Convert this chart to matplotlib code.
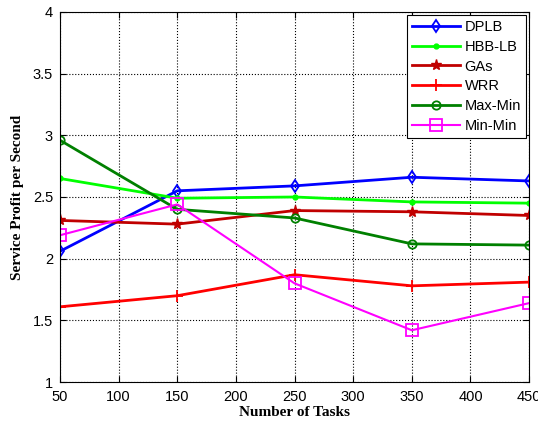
import matplotlib
matplotlib.use('Agg')
import matplotlib.pyplot as plt

tasks = [50, 150, 250, 350, 450]
dplb = [2.06, 2.55, 2.59, 2.66, 2.63]
hbb_lb = [2.65, 2.49, 2.50, 2.46, 2.45]
gas = [2.31, 2.28, 2.39, 2.38, 2.35]
wrr = [1.61, 1.70, 1.87, 1.78, 1.81]
max_min = [2.96, 2.40, 2.33, 2.12, 2.11]
min_min = [2.19, 2.44, 1.80, 1.42, 1.64]

plt.rcParams['font.family'] = 'Liberation Sans'

fig = plt.figure(figsize=(5.38, 4.25), dpi=100)
ax = fig.add_axes([0.1115, 0.101, 0.872, 0.871])

ax.plot(tasks, dplb, color='#0000ff', marker='d', mfc='none', ms=6, lw=2, mew=1.3, label='DPLB')
ax.plot(tasks, hbb_lb, color='#00ff00', marker='.', ms=7, lw=2, label='HBB-LB')
ax.plot(tasks, gas, color='#c00000', marker='*', ms=8, lw=2, label='GAs')
ax.plot(tasks, wrr, color='#ff0000', marker='+', ms=9, lw=2, mew=1.3, label='WRR')
ax.plot(tasks, max_min, color='#008000', marker='o', mfc='none', ms=6, lw=2, mew=1.3, label='Max-Min')
ax.plot(tasks, min_min, color='#ff00ff', marker='s', mfc='none', ms=8, lw=1.5, mew=1.3, label='Min-Min')

ax.set_xlim(50, 450)
ax.set_ylim(1, 4)
ax.set_xticks(range(50, 451, 50))
ax.set_yticks([1, 1.5, 2, 2.5, 3, 3.5, 4])
ax.set_yticklabels(['1', '1.5', '2', '2.5', '3', '3.5', '4'])
ax.tick_params(direction='in', labelsize=10.5, top=True, right=True, length=4)
ax.tick_params(axis='x', pad=6)
ax.tick_params(axis='y', pad=5)
ax.grid(True, color='black', linestyle=':', linewidth=0.8)
for s in ax.spines.values():
    s.set_linewidth(0.8)

ax.set_xlabel('Number of Tasks', family='Liberation Serif', fontweight='bold', fontsize=11, labelpad=1)
ax.set_ylabel('Service Profit per Second', family='Liberation Serif', fontweight='bold', fontsize=11, labelpad=6)

leg = ax.legend(loc='upper right', fontsize=10.5, fancybox=False, framealpha=1,
                edgecolor='black', borderaxespad=0.2, handlelength=3.3,
                labelspacing=0.4, borderpad=0.35, handletextpad=0.3)
leg.get_frame().set_linewidth(0.8)

fig.savefig('out.png', dpi=100)
